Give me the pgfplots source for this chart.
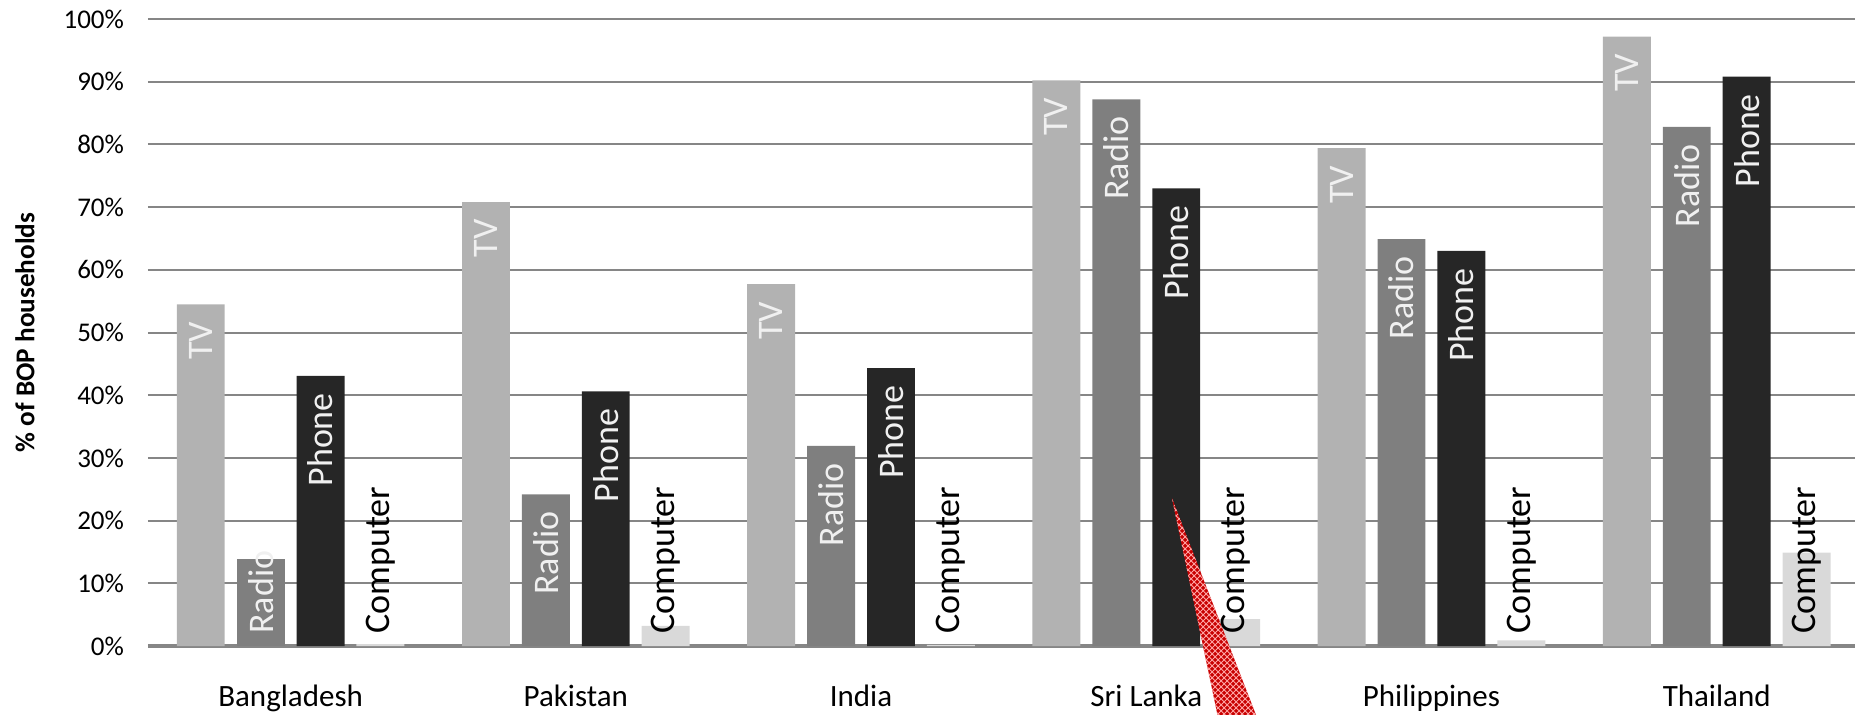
\documentclass[border=0pt]{standalone}
\usepackage{fontspec}
\setmainfont{Carlito}
\usepackage{pgfplots}
\pgfplotsset{compat=1.18}
\usetikzlibrary{patterns}

\definecolor{tvc}{HTML}{B2B2B2}
\definecolor{radioc}{HTML}{7F7F7F}
\definecolor{phonec}{HTML}{262626}
\definecolor{compc}{HTML}{D9D9D9}
\definecolor{gridc}{HTML}{868686}
\definecolor{wedge}{HTML}{C80000}

% one x unit = 853.5pt / 5.985
\newcommand{\xu}{142.6pt}

\begin{document}
\begin{tikzpicture}
\begin{axis}[
    at={(0,0)}, anchor=south west,
    scale only axis,
    width=853.5pt, height=313.5pt,
    xmin=-0.5, xmax=5.485,
    ymin=0, ymax=100,
    ybar, bar width=0.168,
    clip=false,
    axis line style={draw=none},
    major tick length=0pt,
    ymajorgrids,
    grid style={draw=gridc, line width=1pt},
    ytick={0,10,...,100},
    extra y ticks={0},
    extra y tick labels={},
    extra y tick style={grid style={draw=gridc, line width=1.6pt}},
    /pgf/number format/assume math mode=true,
    yticklabel={\pgfmathprintnumber{\tick}\%},
    yticklabel style={font=\fontsize{13.5pt}{14pt}\selectfont, xshift=-8.5pt},
    xtick={0,...,5},
    xticklabels={Bangladesh,Pakistan,India,Sri Lanka,Philippines,Thailand},
    xticklabel style={font=\fontsize{15.5pt}{16pt}\selectfont, yshift=-15.8pt},
    ylabel={\% of BOP households},
    every axis y label/.style={at={(axis description cs:0,0.5)}, xshift=-61.5pt,
        rotate=90, anchor=center, font=\fontsize{13.6pt}{14pt}\selectfont\bfseries},
    top label/.style 2 args={nodes near coords={#1},
        every node near coord/.style={xshift=#2*\xu, rotate=90, anchor=east, inner xsep=8.5pt,
            font=\fontsize{18pt}{18pt}\selectfont, text=white!88!gray}},
    base label/.style 2 args={nodes near coords={#1},
        every node near coord/.style={xshift=#2*\xu, rotate=90, anchor=west, inner xsep=6pt,
            font=\fontsize{18pt}{18pt}\selectfont}},
]
% TV
\addplot[fill=tvc, draw=none, bar shift=-0.315, top label={TV}{-0.315}]
    coordinates {(0,54.5) (1,70.8) (2,57.7) (3,90.2) (4,79.4) (5,97.2)};
% Radio (Bangladesh label sits at the base, see below)
\addplot[fill=radioc, draw=none, bar shift=-0.105, top label={Radio}{-0.105}]
    coordinates {(1,24.2) (2,31.9) (3,87.2) (4,64.9) (5,82.8)};
\addplot[fill=radioc, draw=none, bar shift=-0.105]
    coordinates {(0,13.9)};
% Phone
\addplot[fill=phonec, draw=none, bar shift=0.105, top label={Phone}{0.105}]
    coordinates {(0,43.1) (1,40.6) (2,44.3) (3,73.0) (4,63.0) (5,90.8)};
% Computer
\addplot[fill=compc, draw=none, bar shift=0.315]
    coordinates {(0,0.3) (1,3.2) (2,0.2) (3,4.3) (4,0.9) (5,14.9)};
% labels at the base of the bars
\addplot[draw=none, fill=none, bar shift=0.315, base label={Computer}{0.315}]
    coordinates {(0,0) (1,0) (2,0) (3,0) (4,0) (5,0)};
\addplot[draw=none, fill=none, bar shift=-0.105, base label={Radio}{-0.105},
    every node near coord/.append style={text=white!88!gray}]
    coordinates {(0,0)};
% red wedge
\fill[wedge] (axis cs:3.090,23.6) -- (axis cs:3.252,-11.5) -- (axis cs:3.389,-11.5) -- cycle;
\fill[pattern=crosshatch, pattern color=red!35!white] (axis cs:3.090,23.6) -- (axis cs:3.252,-11.5) -- (axis cs:3.389,-11.5) -- cycle;
\end{axis}
\pgfresetboundingbox
\path[use as bounding box] (-74pt,-34pt) rectangle (853.5pt,323pt);
\end{tikzpicture}
\end{document}
